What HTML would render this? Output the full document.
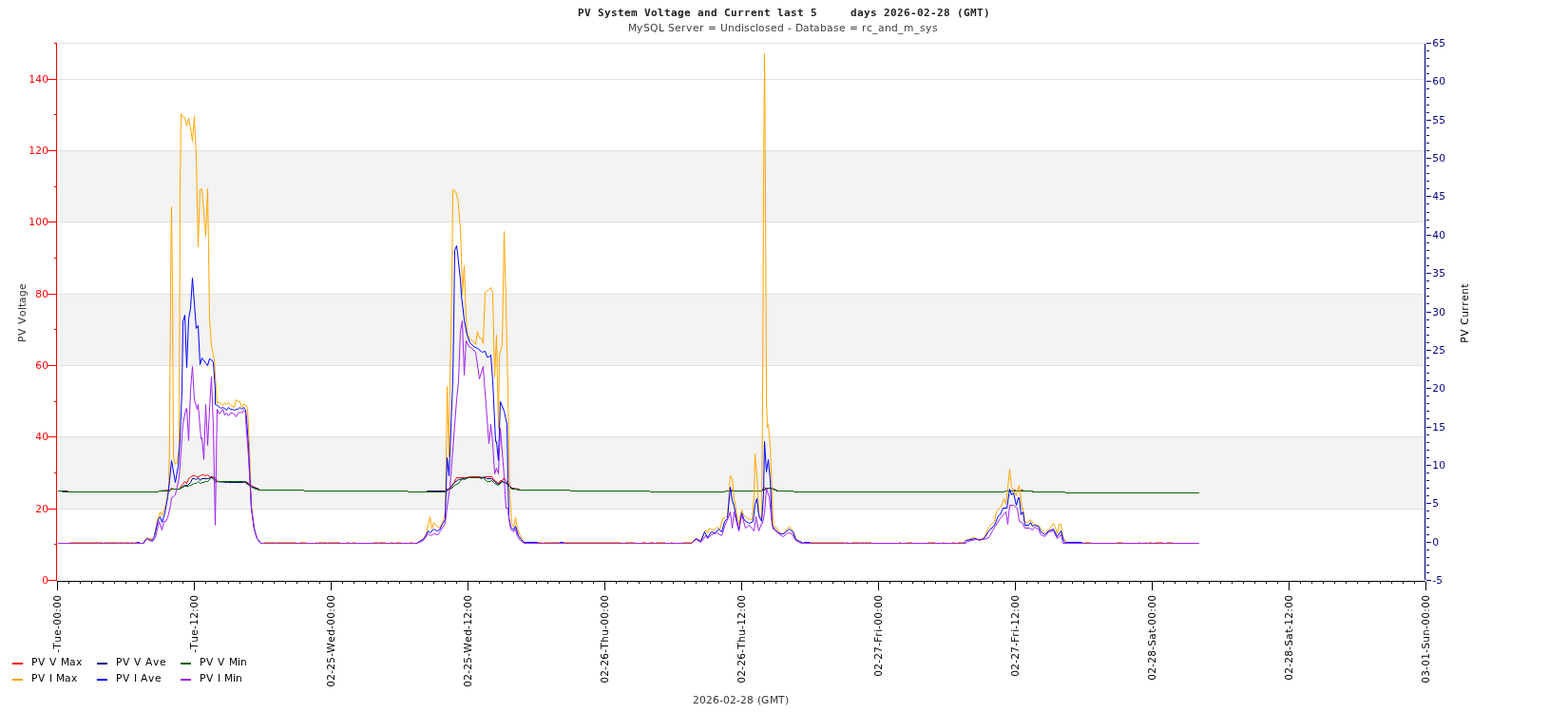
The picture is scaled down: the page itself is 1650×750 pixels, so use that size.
<!DOCTYPE html><html><head><meta charset="utf-8"><title>PV System Voltage and Current</title><style>html,body{margin:0;padding:0;background:#fff;overflow:hidden}svg{display:block;position:absolute;left:0;top:0}text{font-family:"DejaVu Sans","Liberation Sans",sans-serif}</style></head><body><div style="position:relative;width:1650px;height:750px"><svg width="1650" height="750" viewBox="0 0 1650 750" shape-rendering="crispEdges"><rect x="0" y="0" width="1650" height="750" fill="#fff"/><rect x="60" y="459" width="1439" height="76" fill="#f3f3f3"/><rect x="60" y="309" width="1439" height="75" fill="#f3f3f3"/><rect x="60" y="158" width="1439" height="75" fill="#f3f3f3"/><rect x="61" y="535" width="1438" height="1" fill="#e0e0e0"/><rect x="61" y="459" width="1438" height="1" fill="#e0e0e0"/><rect x="61" y="384" width="1438" height="1" fill="#e0e0e0"/><rect x="61" y="309" width="1438" height="1" fill="#e0e0e0"/><rect x="61" y="233" width="1438" height="1" fill="#e0e0e0"/><rect x="61" y="158" width="1438" height="1" fill="#e0e0e0"/><rect x="61" y="83" width="1438" height="1" fill="#e0e0e0"/><rect x="61" y="45" width="1438" height="1" fill="#e0e0e0"/><rect x="60" y="45" width="1" height="565" fill="#e8f6f6"/><rect x="1500" y="46" width="1" height="565" fill="#ebebe3"/></svg><svg width="1650" height="750" viewBox="0 0 1650 750" shape-rendering="geometricPrecision"><polyline fill="none" stroke="#f00" stroke-width="1.00" stroke-linejoin="miter" stroke-miterlimit="2" points="61.5,516.5 71.5,516.5 71.5,517.5 166.5,517.5 167.5,516.5 178.5,515.5 180.5,513.5 182.5,514.5 188.5,514.5 194.5,506.5 196.5,508.5 198.5,503.5 202.5,500.5 205.5,500.5 206.5,501.5 208.5,501.5 210.5,500.5 212.5,499.5 214.5,499.5 216.5,500.5 218.5,499.5 220.5,501.5 223.5,501.5 226.5,502.5 228.5,505.5 228.5,506.5 257.5,506.5 260.5,507.5 264.5,510.5 267.5,512.5 272.5,514.5 273.5,515.5 319.5,515.5 320.5,516.5 428.5,516.5 429.5,517.5 448.5,517.5 449.5,516.5 469.5,516.5 470.5,514.5 474.5,513.5 480.5,502.5 483.5,502.5 489.5,502.5 495.5,501.5 504.5,501.5 507.5,502.5 510.5,501.5 517.5,501.5 520.5,505.5 524.5,508.5 526.5,505.5 528.5,505.5 530.5,502.5 532.5,505.5 538.5,513.5 546.5,514.5 547.5,515.5 599.5,515.5 600.5,516.5 683.5,516.5 684.5,517.5 762.5,517.5 763.5,516.5 767.5,516.5 769.5,515.5 772.5,516.5 800.5,516.5 804.5,512.5 806.5,514.5 809.5,513.5 814.5,514.5 818.5,516.5 834.5,516.5 835.5,517.5 1056.5,517.5 1057.5,516.5 1065.5,516.5 1066.5,515.5 1068.5,515.5 1069.5,516.5 1073.5,516.5 1074.5,515.5 1076.5,515.5 1077.5,516.5 1085.5,516.5 1086.5,517.5 1120.5,517.5 1121.5,518.5 1261.5,518.5"/><polyline fill="none" stroke="#000080" stroke-width="1.00" stroke-linejoin="miter" stroke-miterlimit="2" points="61.5,516.5 69.5,516.5 69.5,517.5 166.5,517.5 167.5,516.5 178.5,516.5 180.5,514.5 188.5,514.5 194.5,510.5 197.5,510.5 200.5,507.5 202.5,503.5 204.5,503.5 206.5,504.5 208.5,502.5 210.5,505.5 212.5,503.5 218.5,503.5 222.5,502.5 225.5,503.5 227.5,506.5 239.5,507.5 240.5,507.5 246.5,507.5 255.5,507.5 258.5,506.5 263.5,511.5 272.5,514.5 273.5,515.5 319.5,515.5 320.5,516.5 428.5,516.5 429.5,517.5 448.5,517.5 449.5,516.5 469.5,516.5 472.5,514.5 478.5,507.5 482.5,504.5 488.5,503.5 492.5,502.5 505.5,502.5 508.5,502.5 510.5,502.5 512.5,503.5 517.5,503.5 520.5,506.5 524.5,509.5 527.5,506.5 532.5,507.5 538.5,513.5 546.5,515.5 599.5,515.5 600.5,516.5 683.5,516.5 684.5,517.5 762.5,517.5 763.5,516.5 800.5,516.5 804.5,514.5 808.5,513.5 811.5,513.5 814.5,514.5 818.5,516.5 834.5,516.5 835.5,517.5 1056.5,517.5 1057.5,516.5 1086.5,516.5 1087.5,517.5 1120.5,517.5 1121.5,518.5 1261.5,518.5"/><polyline fill="none" stroke="#006400" stroke-width="1.00" stroke-linejoin="miter" stroke-miterlimit="2" points="61.5,516.5 65.5,516.5 65.5,517.5 166.5,517.5 167.5,516.5 178.5,516.5 180.5,514.5 188.5,514.5 194.5,511.5 198.5,511.5 204.5,508.5 206.5,508.5 208.5,506.5 210.5,508.5 216.5,506.5 218.5,506.5 222.5,502.5 224.5,503.5 226.5,507.5 228.5,506.5 256.5,506.5 263.5,511.5 266.5,513.5 272.5,515.5 319.5,515.5 320.5,516.5 428.5,516.5 429.5,517.5 469.5,517.5 470.5,516.5 472.5,514.5 474.5,514.5 478.5,510.5 482.5,508.5 486.5,503.5 488.5,504.5 492.5,502.5 504.5,502.5 506.5,503.5 508.5,502.5 512.5,506.5 515.5,506.5 517.5,505.5 520.5,508.5 524.5,510.5 528.5,506.5 532.5,508.5 538.5,514.5 544.5,514.5 546.5,515.5 599.5,515.5 600.5,516.5 683.5,516.5 684.5,517.5 762.5,517.5 763.5,516.5 800.5,516.5 804.5,515.5 807.5,513.5 810.5,513.5 813.5,514.5 818.5,516.5 834.5,516.5 835.5,517.5 1056.5,517.5 1057.5,516.5 1086.5,516.5 1087.5,517.5 1120.5,517.5 1121.5,518.5 1261.5,518.5"/><polyline fill="none" stroke="#ffa500" stroke-width="1.00" stroke-linejoin="miter" stroke-miterlimit="2" points="61.5,571.5 150.5,571.5 154.5,565.5 156.5,566.5 160.5,566.5 162.5,564.5 165.5,547.5 168.5,538.5 170.5,542.5 174.5,531.5 176.5,520.5 177.5,514.5 178.5,460.5 179.5,300.5 180.5,217.5 181.5,300.5 182.5,480.5 184.5,488.5 186.5,486.5 188.5,470.5 189.5,200.5 190.5,119.5 191.5,121.5 192.5,123.5 193.5,122.5 194.5,123.5 196.5,132.5 198.5,124.5 200.5,134.5 202.5,148.5 204.5,122.5 206.5,164.5 208.5,259.5 210.5,199.5 212.5,198.5 216.5,248.5 218.5,198.5 219.5,260.5 220.5,336.5 222.5,364.5 225.5,378.5 227.5,410.5 228.5,424.5 230.5,422.5 234.5,426.5 236.5,423.5 238.5,425.5 240.5,423.5 242.5,426.5 246.5,428.5 248.5,420.5 250.5,422.5 252.5,422.5 254.5,428.5 256.5,425.5 258.5,425.5 260.5,429.5 262.5,470.5 264.5,530.5 267.5,556.5 270.5,566.5 274.5,571.5 437.5,571.5 441.5,569.5 445.5,566.5 448.5,561.5 452.5,543.5 454.5,556.5 456.5,549.5 459.5,553.5 462.5,555.5 466.5,547.5 468.5,538.5 469.5,486.5 470.5,406.5 472.5,480.5 473.5,400.5 475.5,300.5 476.5,199.5 479.5,201.5 481.5,208.5 482.5,216.5 484.5,240.5 485.5,270.5 486.5,310.5 488.5,279.5 490.5,336.5 491.5,350.5 494.5,356.5 497.5,358.5 500.5,362.5 502.5,348.5 504.5,355.5 506.5,355.5 508.5,361.5 510.5,307.5 514.5,304.5 516.5,302.5 518.5,307.5 520.5,396.5 522.5,352.5 524.5,450.5 525.5,373.5 528.5,362.5 530.5,243.5 532.5,320.5 534.5,410.5 535.5,470.5 536.5,520.5 538.5,550.5 540.5,554.5 542.5,544.5 544.5,556.5 547.5,563.5 550.5,569.5 552.5,571.5 726.5,571.5 732.5,566.5 736.5,569.5 742.5,557.5 744.5,560.5 746.5,555.5 748.5,557.5 751.5,557.5 754.5,554.5 757.5,556.5 760.5,545.5 763.5,544.5 765.5,542.5 768.5,500.5 770.5,503.5 772.5,524.5 774.5,535.5 776.5,553.5 780.5,536.5 782.5,541.5 786.5,545.5 791.5,546.5 793.5,520.5 794.5,477.5 796.5,500.5 798.5,540.5 801.5,545.5 802.5,420.5 803.5,200.5 804.5,56.5 805.5,200.5 806.5,420.5 807.5,449.5 808.5,446.5 810.5,470.5 812.5,516.5 813.5,553.5 816.5,554.5 821.5,561.5 824.5,561.5 830.5,553.5 834.5,558.5 837.5,566.5 841.5,569.5 845.5,571.5 1014.5,571.5 1016.5,568.5 1024.5,565.5 1030.5,567.5 1035.5,565.5 1040.5,554.5 1046.5,548.5 1048.5,538.5 1052.5,533.5 1054.5,530.5 1056.5,524.5 1058.5,530.5 1060.5,513.5 1062.5,493.5 1064.5,512.5 1066.5,516.5 1069.5,521.5 1072.5,510.5 1074.5,526.5 1075.5,535.5 1076.5,534.5 1078.5,549.5 1081.5,549.5 1084.5,546.5 1087.5,551.5 1092.5,552.5 1096.5,557.5 1100.5,561.5 1103.5,557.5 1108.5,550.5 1110.5,554.5 1112.5,561.5 1114.5,551.5 1116.5,551.5 1118.5,565.5 1122.5,570.5 1124.5,571.5 1261.5,571.5"/><rect x="74" y="570" width="34" height="1" fill="#ffa500"/><rect x="110" y="570" width="14" height="1" fill="#ffa500"/><rect x="125" y="570" width="5" height="1" fill="#ffa500"/><rect x="131" y="570" width="5" height="1" fill="#ffa500"/><rect x="137" y="570" width="3" height="1" fill="#ffa500"/><rect x="141" y="570" width="3" height="1" fill="#ffa500"/><rect x="278" y="570" width="12" height="1" fill="#ffa500"/><rect x="291" y="570" width="21" height="1" fill="#ffa500"/><rect x="315" y="570" width="7" height="1" fill="#ffa500"/><rect x="332" y="570" width="2" height="1" fill="#ffa500"/><rect x="335" y="570" width="9" height="1" fill="#ffa500"/><rect x="345" y="570" width="13" height="1" fill="#ffa500"/><rect x="365" y="570" width="3" height="1" fill="#ffa500"/><rect x="371" y="570" width="3" height="1" fill="#ffa500"/><rect x="393" y="570" width="5" height="1" fill="#ffa500"/><rect x="399" y="570" width="7" height="1" fill="#ffa500"/><rect x="411" y="570" width="3" height="1" fill="#ffa500"/><rect x="417" y="570" width="5" height="1" fill="#ffa500"/><rect x="431" y="570" width="3" height="1" fill="#ffa500"/><rect x="566" y="570" width="5" height="1" fill="#ffa500"/><rect x="572" y="570" width="18" height="1" fill="#ffa500"/><rect x="592" y="570" width="62" height="1" fill="#ffa500"/><rect x="658" y="570" width="10" height="1" fill="#ffa500"/><rect x="676" y="570" width="4" height="1" fill="#ffa500"/><rect x="683" y="570" width="5" height="1" fill="#ffa500"/><rect x="690" y="570" width="10" height="1" fill="#ffa500"/><rect x="706" y="570" width="2" height="1" fill="#ffa500"/><rect x="718" y="570" width="9" height="1" fill="#ffa500"/><rect x="852" y="570" width="36" height="1" fill="#ffa500"/><rect x="890" y="570" width="3" height="1" fill="#ffa500"/><rect x="896" y="570" width="9" height="1" fill="#ffa500"/><rect x="906" y="570" width="3" height="1" fill="#ffa500"/><rect x="910" y="570" width="7" height="1" fill="#ffa500"/><rect x="946" y="570" width="2" height="1" fill="#ffa500"/><rect x="954" y="570" width="6" height="1" fill="#ffa500"/><rect x="976" y="570" width="8" height="1" fill="#ffa500"/><rect x="992" y="570" width="2" height="1" fill="#ffa500"/><rect x="1002" y="570" width="3" height="1" fill="#ffa500"/><rect x="1008" y="570" width="6" height="1" fill="#ffa500"/><rect x="1141" y="570" width="7" height="1" fill="#ffa500"/><rect x="1175" y="570" width="6" height="1" fill="#ffa500"/><rect x="1198" y="570" width="2" height="1" fill="#ffa500"/><rect x="1205" y="570" width="2" height="1" fill="#ffa500"/><rect x="1209" y="570" width="3" height="1" fill="#ffa500"/><rect x="1215" y="570" width="9" height="1" fill="#ffa500"/><rect x="1228" y="570" width="6" height="1" fill="#ffa500"/><polyline fill="none" stroke="#0000ff" stroke-width="1.00" stroke-linejoin="miter" stroke-miterlimit="2" points="61.5,571.5 150.5,571.5 154.5,566.5 156.5,567.5 160.5,568.5 162.5,563.5 166.5,546.5 168.5,543.5 170.5,549.5 173.5,539.5 176.5,522.5 178.5,505.5 180.5,484.5 184.5,507.5 187.5,490.5 189.5,460.5 191.5,410.5 192.5,338.5 194.5,331.5 196.5,386.5 198.5,335.5 200.5,324.5 202.5,292.5 206.5,345.5 208.5,342.5 210.5,383.5 212.5,376.5 218.5,384.5 220.5,377.5 222.5,378.5 224.5,381.5 226.5,410.5 226.5,425.5 228.5,426.5 232.5,429.5 234.5,428.5 238.5,431.5 240.5,428.5 242.5,430.5 244.5,430.5 246.5,431.5 248.5,430.5 250.5,430.5 252.5,428.5 254.5,430.5 256.5,428.5 258.5,431.5 259.5,440.5 261.5,470.5 264.5,534.5 267.5,556.5 270.5,566.5 274.5,571.5 438.5,571.5 441.5,569.5 446.5,566.5 450.5,558.5 452.5,560.5 456.5,556.5 459.5,558.5 462.5,557.5 465.5,551.5 468.5,546.5 469.5,512.5 470.5,481.5 472.5,500.5 474.5,450.5 476.5,400.5 477.5,340.5 478.5,263.5 480.5,258.5 481.5,266.5 484.5,294.5 485.5,310.5 488.5,336.5 491.5,352.5 494.5,360.5 498.5,364.5 502.5,366.5 507.5,370.5 510.5,369.5 512.5,375.5 514.5,375.5 516.5,373.5 518.5,400.5 521.5,464.5 522.5,464.5 524.5,484.5 526.5,422.5 530.5,432.5 533.5,446.5 534.5,504.5 535.5,544.5 537.5,554.5 540.5,557.5 542.5,553.5 545.5,563.5 548.5,567.5 551.5,570.5 560.5,570.5 561.5,571.5 727.5,571.5 732.5,566.5 737.5,569.5 741.5,559.5 744.5,565.5 748.5,559.5 752.5,560.5 756.5,556.5 759.5,559.5 762.5,548.5 765.5,545.5 768.5,512.5 770.5,526.5 772.5,532.5 775.5,548.5 777.5,557.5 780.5,539.5 783.5,547.5 788.5,550.5 792.5,548.5 794.5,530.5 796.5,524.5 798.5,542.5 801.5,548.5 803.5,520.5 804.5,464.5 806.5,496.5 808.5,483.5 810.5,504.5 812.5,552.5 815.5,557.5 817.5,559.5 821.5,561.5 824.5,561.5 830.5,556.5 834.5,559.5 837.5,567.5 841.5,569.5 845.5,571.5 1014.5,571.5 1016.5,568.5 1026.5,566.5 1030.5,568.5 1035.5,566.5 1040.5,558.5 1046.5,552.5 1050.5,542.5 1052.5,541.5 1055.5,534.5 1059.5,534.5 1062.5,514.5 1064.5,520.5 1066.5,518.5 1069.5,531.5 1071.5,523.5 1072.5,523.5 1074.5,541.5 1076.5,538.5 1078.5,552.5 1082.5,552.5 1084.5,549.5 1086.5,553.5 1088.5,552.5 1092.5,553.5 1095.5,559.5 1099.5,562.5 1103.5,558.5 1108.5,556.5 1112.5,564.5 1116.5,558.5 1119.5,569.5 1122.5,571.5 1261.5,571.5"/><rect x="144" y="570" width="3" height="1" fill="#0000ff"/><rect x="552" y="570" width="14" height="1" fill="#0000ff"/><rect x="589" y="570" width="4" height="1" fill="#0000ff"/><rect x="846" y="570" width="6" height="1" fill="#0000ff"/><rect x="1122" y="570" width="17" height="1" fill="#0000ff"/><polyline fill="none" stroke="#a020f0" stroke-width="1.00" stroke-linejoin="miter" stroke-miterlimit="2" points="61.5,571.5 151.5,571.5 154.5,566.5 157.5,568.5 160.5,569.5 163.5,565.5 167.5,548.5 170.5,557.5 172.5,548.5 174.5,548.5 176.5,544.5 179.5,531.5 180.5,523.5 182.5,522.5 184.5,520.5 188.5,502.5 192.5,446.5 195.5,430.5 196.5,429.5 198.5,463.5 200.5,410.5 202.5,385.5 204.5,420.5 207.5,430.5 208.5,425.5 211.5,461.5 212.5,460.5 214.5,483.5 216.5,425.5 218.5,468.5 221.5,412.5 222.5,396.5 224.5,450.5 226.5,552.5 228.5,430.5 230.5,435.5 234.5,430.5 236.5,436.5 238.5,434.5 240.5,437.5 242.5,434.5 244.5,434.5 246.5,435.5 248.5,438.5 250.5,434.5 252.5,433.5 254.5,434.5 256.5,431.5 258.5,434.5 258.5,440.5 261.5,480.5 264.5,534.5 267.5,556.5 270.5,566.5 274.5,571.5 438.5,571.5 445.5,568.5 450.5,561.5 453.5,563.5 456.5,561.5 460.5,562.5 463.5,558.5 468.5,550.5 470.5,533.5 473.5,512.5 475.5,486.5 477.5,460.5 480.5,420.5 482.5,400.5 484.5,348.5 486.5,337.5 488.5,394.5 490.5,358.5 493.5,364.5 495.5,365.5 500.5,370.5 504.5,398.5 508.5,385.5 509.5,400.5 511.5,426.5 514.5,466.5 516.5,446.5 518.5,466.5 520.5,498.5 522.5,492.5 524.5,498.5 526.5,450.5 530.5,500.5 531.5,520.5 532.5,534.5 534.5,534.5 535.5,545.5 537.5,556.5 540.5,559.5 542.5,556.5 544.5,564.5 547.5,568.5 551.5,571.5 727.5,571.5 732.5,567.5 737.5,570.5 742.5,563.5 744.5,566.5 748.5,562.5 754.5,560.5 759.5,563.5 762.5,553.5 765.5,546.5 768.5,538.5 770.5,555.5 772.5,538.5 777.5,558.5 780.5,541.5 784.5,555.5 788.5,552.5 793.5,558.5 795.5,543.5 798.5,558.5 801.5,550.5 802.5,550.5 804.5,539.5 806.5,514.5 809.5,522.5 811.5,542.5 813.5,556.5 816.5,557.5 820.5,562.5 824.5,564.5 827.5,561.5 830.5,560.5 833.5,561.5 836.5,567.5 840.5,570.5 843.5,571.5 1016.5,571.5 1018.5,569.5 1026.5,567.5 1035.5,567.5 1040.5,565.5 1046.5,554.5 1052.5,545.5 1058.5,538.5 1060.5,551.5 1062.5,531.5 1066.5,531.5 1070.5,534.5 1072.5,548.5 1075.5,549.5 1078.5,555.5 1083.5,555.5 1086.5,557.5 1088.5,554.5 1092.5,556.5 1095.5,562.5 1099.5,564.5 1103.5,559.5 1108.5,558.5 1112.5,566.5 1116.5,562.5 1118.5,571.5 1261.5,571.5"/></svg><svg width="1650" height="750" viewBox="0 0 1650 750" shape-rendering="crispEdges"><rect x="60" y="611" width="1440" height="1" fill="#000"/><rect x="60" y="612" width="1" height="9" fill="#000"/><rect x="72" y="612" width="1" height="2" fill="#000"/><rect x="84" y="612" width="1" height="2" fill="#000"/><rect x="96" y="612" width="1" height="2" fill="#000"/><rect x="108" y="612" width="1" height="2" fill="#000"/><rect x="120" y="612" width="1" height="2" fill="#000"/><rect x="132" y="612" width="1" height="2" fill="#000"/><rect x="144" y="612" width="1" height="2" fill="#000"/><rect x="156" y="612" width="1" height="2" fill="#000"/><rect x="168" y="612" width="1" height="2" fill="#000"/><rect x="180" y="612" width="1" height="2" fill="#000"/><rect x="192" y="612" width="1" height="2" fill="#000"/><rect x="204" y="612" width="1" height="9" fill="#000"/><rect x="216" y="612" width="1" height="2" fill="#000"/><rect x="228" y="612" width="1" height="2" fill="#000"/><rect x="240" y="612" width="1" height="2" fill="#000"/><rect x="252" y="612" width="1" height="2" fill="#000"/><rect x="264" y="612" width="1" height="2" fill="#000"/><rect x="276" y="612" width="1" height="2" fill="#000"/><rect x="288" y="612" width="1" height="2" fill="#000"/><rect x="300" y="612" width="1" height="2" fill="#000"/><rect x="312" y="612" width="1" height="2" fill="#000"/><rect x="324" y="612" width="1" height="2" fill="#000"/><rect x="336" y="612" width="1" height="2" fill="#000"/><rect x="348" y="612" width="1" height="9" fill="#000"/><rect x="360" y="612" width="1" height="2" fill="#000"/><rect x="372" y="612" width="1" height="2" fill="#000"/><rect x="384" y="612" width="1" height="2" fill="#000"/><rect x="396" y="612" width="1" height="2" fill="#000"/><rect x="408" y="612" width="1" height="2" fill="#000"/><rect x="420" y="612" width="1" height="2" fill="#000"/><rect x="432" y="612" width="1" height="2" fill="#000"/><rect x="444" y="612" width="1" height="2" fill="#000"/><rect x="456" y="612" width="1" height="2" fill="#000"/><rect x="468" y="612" width="1" height="2" fill="#000"/><rect x="480" y="612" width="1" height="2" fill="#000"/><rect x="492" y="612" width="1" height="9" fill="#000"/><rect x="504" y="612" width="1" height="2" fill="#000"/><rect x="516" y="612" width="1" height="2" fill="#000"/><rect x="528" y="612" width="1" height="2" fill="#000"/><rect x="540" y="612" width="1" height="2" fill="#000"/><rect x="552" y="612" width="1" height="2" fill="#000"/><rect x="564" y="612" width="1" height="2" fill="#000"/><rect x="576" y="612" width="1" height="2" fill="#000"/><rect x="588" y="612" width="1" height="2" fill="#000"/><rect x="600" y="612" width="1" height="2" fill="#000"/><rect x="612" y="612" width="1" height="2" fill="#000"/><rect x="624" y="612" width="1" height="2" fill="#000"/><rect x="636" y="612" width="1" height="9" fill="#000"/><rect x="648" y="612" width="1" height="2" fill="#000"/><rect x="660" y="612" width="1" height="2" fill="#000"/><rect x="672" y="612" width="1" height="2" fill="#000"/><rect x="684" y="612" width="1" height="2" fill="#000"/><rect x="696" y="612" width="1" height="2" fill="#000"/><rect x="708" y="612" width="1" height="2" fill="#000"/><rect x="720" y="612" width="1" height="2" fill="#000"/><rect x="732" y="612" width="1" height="2" fill="#000"/><rect x="744" y="612" width="1" height="2" fill="#000"/><rect x="756" y="612" width="1" height="2" fill="#000"/><rect x="768" y="612" width="1" height="2" fill="#000"/><rect x="780" y="612" width="1" height="9" fill="#000"/><rect x="792" y="612" width="1" height="2" fill="#000"/><rect x="804" y="612" width="1" height="2" fill="#000"/><rect x="816" y="612" width="1" height="2" fill="#000"/><rect x="828" y="612" width="1" height="2" fill="#000"/><rect x="840" y="612" width="1" height="2" fill="#000"/><rect x="852" y="612" width="1" height="2" fill="#000"/><rect x="864" y="612" width="1" height="2" fill="#000"/><rect x="876" y="612" width="1" height="2" fill="#000"/><rect x="888" y="612" width="1" height="2" fill="#000"/><rect x="900" y="612" width="1" height="2" fill="#000"/><rect x="912" y="612" width="1" height="2" fill="#000"/><rect x="924" y="612" width="1" height="9" fill="#000"/><rect x="936" y="612" width="1" height="2" fill="#000"/><rect x="948" y="612" width="1" height="2" fill="#000"/><rect x="960" y="612" width="1" height="2" fill="#000"/><rect x="972" y="612" width="1" height="2" fill="#000"/><rect x="984" y="612" width="1" height="2" fill="#000"/><rect x="996" y="612" width="1" height="2" fill="#000"/><rect x="1008" y="612" width="1" height="2" fill="#000"/><rect x="1020" y="612" width="1" height="2" fill="#000"/><rect x="1032" y="612" width="1" height="2" fill="#000"/><rect x="1044" y="612" width="1" height="2" fill="#000"/><rect x="1056" y="612" width="1" height="2" fill="#000"/><rect x="1068" y="612" width="1" height="9" fill="#000"/><rect x="1080" y="612" width="1" height="2" fill="#000"/><rect x="1092" y="612" width="1" height="2" fill="#000"/><rect x="1104" y="612" width="1" height="2" fill="#000"/><rect x="1116" y="612" width="1" height="2" fill="#000"/><rect x="1128" y="612" width="1" height="2" fill="#000"/><rect x="1140" y="612" width="1" height="2" fill="#000"/><rect x="1152" y="612" width="1" height="2" fill="#000"/><rect x="1164" y="612" width="1" height="2" fill="#000"/><rect x="1176" y="612" width="1" height="2" fill="#000"/><rect x="1188" y="612" width="1" height="2" fill="#000"/><rect x="1200" y="612" width="1" height="2" fill="#000"/><rect x="1212" y="612" width="1" height="9" fill="#000"/><rect x="1224" y="612" width="1" height="2" fill="#000"/><rect x="1236" y="612" width="1" height="2" fill="#000"/><rect x="1248" y="612" width="1" height="2" fill="#000"/><rect x="1260" y="612" width="1" height="2" fill="#000"/><rect x="1272" y="612" width="1" height="2" fill="#000"/><rect x="1284" y="612" width="1" height="2" fill="#000"/><rect x="1296" y="612" width="1" height="2" fill="#000"/><rect x="1308" y="612" width="1" height="2" fill="#000"/><rect x="1320" y="612" width="1" height="2" fill="#000"/><rect x="1332" y="612" width="1" height="2" fill="#000"/><rect x="1344" y="612" width="1" height="2" fill="#000"/><rect x="1356" y="612" width="1" height="9" fill="#000"/><rect x="1368" y="612" width="1" height="2" fill="#000"/><rect x="1380" y="612" width="1" height="2" fill="#000"/><rect x="1392" y="612" width="1" height="2" fill="#000"/><rect x="1404" y="612" width="1" height="2" fill="#000"/><rect x="1416" y="612" width="1" height="2" fill="#000"/><rect x="1428" y="612" width="1" height="2" fill="#000"/><rect x="1440" y="612" width="1" height="2" fill="#000"/><rect x="1452" y="612" width="1" height="2" fill="#000"/><rect x="1464" y="612" width="1" height="2" fill="#000"/><rect x="1476" y="612" width="1" height="2" fill="#000"/><rect x="1488" y="612" width="1" height="2" fill="#000"/><rect x="1500" y="612" width="1" height="9" fill="#000"/><rect x="59" y="45" width="1" height="566" fill="#f00"/><rect x="50" y="610" width="9" height="1" fill="#f00"/><rect x="57" y="572" width="2" height="1" fill="#f00"/><rect x="50" y="535" width="9" height="1" fill="#f00"/><rect x="57" y="497" width="2" height="1" fill="#f00"/><rect x="50" y="459" width="9" height="1" fill="#f00"/><rect x="57" y="422" width="2" height="1" fill="#f00"/><rect x="50" y="384" width="9" height="1" fill="#f00"/><rect x="57" y="346" width="2" height="1" fill="#f00"/><rect x="50" y="309" width="9" height="1" fill="#f00"/><rect x="57" y="271" width="2" height="1" fill="#f00"/><rect x="50" y="233" width="9" height="1" fill="#f00"/><rect x="57" y="196" width="2" height="1" fill="#f00"/><rect x="50" y="158" width="9" height="1" fill="#f00"/><rect x="57" y="120" width="2" height="1" fill="#f00"/><rect x="50" y="83" width="9" height="1" fill="#f00"/><rect x="57" y="45" width="2" height="1" fill="#f00"/><rect x="1499" y="46" width="1" height="564" fill="#000080"/><rect x="1501" y="610" width="5" height="1" fill="#000080"/><rect x="1501" y="602" width="3" height="1" fill="#000080"/><rect x="1501" y="594" width="3" height="1" fill="#000080"/><rect x="1501" y="586" width="3" height="1" fill="#000080"/><rect x="1501" y="578" width="3" height="1" fill="#000080"/><rect x="1501" y="570" width="5" height="1" fill="#000080"/><rect x="1501" y="562" width="3" height="1" fill="#000080"/><rect x="1501" y="554" width="3" height="1" fill="#000080"/><rect x="1501" y="545" width="3" height="1" fill="#000080"/><rect x="1501" y="537" width="3" height="1" fill="#000080"/><rect x="1501" y="529" width="5" height="1" fill="#000080"/><rect x="1501" y="521" width="3" height="1" fill="#000080"/><rect x="1501" y="513" width="3" height="1" fill="#000080"/><rect x="1501" y="505" width="3" height="1" fill="#000080"/><rect x="1501" y="497" width="3" height="1" fill="#000080"/><rect x="1501" y="489" width="5" height="1" fill="#000080"/><rect x="1501" y="481" width="3" height="1" fill="#000080"/><rect x="1501" y="473" width="3" height="1" fill="#000080"/><rect x="1501" y="465" width="3" height="1" fill="#000080"/><rect x="1501" y="457" width="3" height="1" fill="#000080"/><rect x="1501" y="449" width="5" height="1" fill="#000080"/><rect x="1501" y="440" width="3" height="1" fill="#000080"/><rect x="1501" y="432" width="3" height="1" fill="#000080"/><rect x="1501" y="424" width="3" height="1" fill="#000080"/><rect x="1501" y="416" width="3" height="1" fill="#000080"/><rect x="1501" y="408" width="5" height="1" fill="#000080"/><rect x="1501" y="400" width="3" height="1" fill="#000080"/><rect x="1501" y="392" width="3" height="1" fill="#000080"/><rect x="1501" y="384" width="3" height="1" fill="#000080"/><rect x="1501" y="376" width="3" height="1" fill="#000080"/><rect x="1501" y="368" width="5" height="1" fill="#000080"/><rect x="1501" y="360" width="3" height="1" fill="#000080"/><rect x="1501" y="352" width="3" height="1" fill="#000080"/><rect x="1501" y="344" width="3" height="1" fill="#000080"/><rect x="1501" y="336" width="3" height="1" fill="#000080"/><rect x="1501" y="328" width="5" height="1" fill="#000080"/><rect x="1501" y="319" width="3" height="1" fill="#000080"/><rect x="1501" y="311" width="3" height="1" fill="#000080"/><rect x="1501" y="303" width="3" height="1" fill="#000080"/><rect x="1501" y="295" width="3" height="1" fill="#000080"/><rect x="1501" y="287" width="5" height="1" fill="#000080"/><rect x="1501" y="279" width="3" height="1" fill="#000080"/><rect x="1501" y="271" width="3" height="1" fill="#000080"/><rect x="1501" y="263" width="3" height="1" fill="#000080"/><rect x="1501" y="255" width="3" height="1" fill="#000080"/><rect x="1501" y="247" width="5" height="1" fill="#000080"/><rect x="1501" y="239" width="3" height="1" fill="#000080"/><rect x="1501" y="231" width="3" height="1" fill="#000080"/><rect x="1501" y="223" width="3" height="1" fill="#000080"/><rect x="1501" y="214" width="3" height="1" fill="#000080"/><rect x="1501" y="206" width="5" height="1" fill="#000080"/><rect x="1501" y="198" width="3" height="1" fill="#000080"/><rect x="1501" y="190" width="3" height="1" fill="#000080"/><rect x="1501" y="182" width="3" height="1" fill="#000080"/><rect x="1501" y="174" width="3" height="1" fill="#000080"/><rect x="1501" y="166" width="5" height="1" fill="#000080"/><rect x="1501" y="158" width="3" height="1" fill="#000080"/><rect x="1501" y="150" width="3" height="1" fill="#000080"/><rect x="1501" y="142" width="3" height="1" fill="#000080"/><rect x="1501" y="134" width="3" height="1" fill="#000080"/><rect x="1501" y="126" width="5" height="1" fill="#000080"/><rect x="1501" y="118" width="3" height="1" fill="#000080"/><rect x="1501" y="110" width="3" height="1" fill="#000080"/><rect x="1501" y="102" width="3" height="1" fill="#000080"/><rect x="1501" y="93" width="3" height="1" fill="#000080"/><rect x="1501" y="85" width="5" height="1" fill="#000080"/><rect x="1501" y="77" width="3" height="1" fill="#000080"/><rect x="1501" y="69" width="3" height="1" fill="#000080"/><rect x="1501" y="61" width="3" height="1" fill="#000080"/><rect x="1501" y="53" width="3" height="1" fill="#000080"/><rect x="1501" y="45" width="5" height="1" fill="#000080"/><rect x="13" y="697" width="11" height="2" fill="#f00"/><rect x="102" y="697" width="11" height="2" fill="#000080"/><rect x="190" y="697" width="11" height="2" fill="#006400"/><rect x="13" y="714" width="11" height="2" fill="#ffa500"/><rect x="102" y="714" width="11" height="2" fill="#00f"/><rect x="190" y="714" width="11" height="2" fill="#a020f0"/></svg><svg width="1650" height="750" viewBox="0 0 1650 750"><text x="608 615 622 629 636 643 650 657 664 671 678 685 692 699 706 713 720 727 734 741 748 755 762 769 776 783 790 797 804 811 818 825 832 839 846 853 860 867 874 881 888 895 902 909 916 923 930 937 944 951 958 965 972 979 986 993 1000 1007 1014 1021 1028 1035" y="17" style="font-family:DejaVu Sans Mono,Liberation Mono,monospace;font-weight:bold" font-size="11" fill="#222" xml:space="preserve">PV System Voltage and Current last 5     days 2026-02-28 (GMT)</text><text x="661.00 670.00 677.00 684.00 693.00 699.00 703.00 710.00 717.00 722.00 729.00 736.00 741.00 745.00 754.00 758.00 766.00 773.00 780.00 783.00 789.00 795.00 798.00 805.00 811.00 818.00 825.00 829.00 833.00 837.00 845.00 852.00 856.00 863.00 870.00 877.00 883.00 890.00 894.00 903.00 907.00 912.00 918.00 924.00 931.00 938.00 945.00 951.00 962.00 968.00 974.00 981.00" y="33.00" font-size="10.67" fill="#404040" xml:space="preserve">MySQL Server = Undisclosed - Database = rc_and_m_sys</text><text x="44.20" y="614.40" font-size="10.67" fill="#f00" xml:space="preserve">0</text><text x="37.20 44.20" y="539.40" font-size="10.67" fill="#f00" xml:space="preserve">20</text><text x="37.20 44.20" y="463.40" font-size="10.67" fill="#f00" xml:space="preserve">40</text><text x="37.20 44.20" y="388.40" font-size="10.67" fill="#f00" xml:space="preserve">60</text><text x="37.20 44.20" y="313.40" font-size="10.67" fill="#f00" xml:space="preserve">80</text><text x="30.20 37.20 44.20" y="237.40" font-size="10.67" fill="#f00" xml:space="preserve">100</text><text x="30.20 37.20 44.20" y="162.40" font-size="10.67" fill="#f00" xml:space="preserve">120</text><text x="30.20 37.20 44.20" y="87.40" font-size="10.67" fill="#f00" xml:space="preserve">140</text><text x="1507.20 1511.20" y="614.40" font-size="10.67" fill="#000080" xml:space="preserve">-5</text><text x="1507.20" y="574.40" font-size="10.67" fill="#000080" xml:space="preserve">0</text><text x="1507.20" y="533.40" font-size="10.67" fill="#000080" xml:space="preserve">5</text><text x="1507.20 1514.20" y="493.40" font-size="10.67" fill="#000080" xml:space="preserve">10</text><text x="1507.20 1514.20" y="453.40" font-size="10.67" fill="#000080" xml:space="preserve">15</text><text x="1507.20 1514.20" y="412.40" font-size="10.67" fill="#000080" xml:space="preserve">20</text><text x="1507.20 1514.20" y="372.40" font-size="10.67" fill="#000080" xml:space="preserve">25</text><text x="1507.20 1514.20" y="332.40" font-size="10.67" fill="#000080" xml:space="preserve">30</text><text x="1507.20 1514.20" y="291.40" font-size="10.67" fill="#000080" xml:space="preserve">35</text><text x="1507.20 1514.20" y="251.40" font-size="10.67" fill="#000080" xml:space="preserve">40</text><text x="1507.20 1514.20" y="210.40" font-size="10.67" fill="#000080" xml:space="preserve">45</text><text x="1507.20 1514.20" y="170.40" font-size="10.67" fill="#000080" xml:space="preserve">50</text><text x="1507.20 1514.20" y="130.40" font-size="10.67" fill="#000080" xml:space="preserve">55</text><text x="1507.20 1514.20" y="89.40" font-size="10.67" fill="#000080" xml:space="preserve">60</text><text x="1507.20 1514.20" y="49.40" font-size="10.67" fill="#000080" xml:space="preserve">65</text><text transform="translate(63.50,625.80) rotate(-90)" x="-61.00 -57.00 -50.00 -43.00 -36.00 -32.00 -25.00 -18.00 -14.00 -7.00" y="0" font-size="10.67" fill="#000" xml:space="preserve">-Tue-00:00</text><text transform="translate(207.50,625.80) rotate(-90)" x="-61.00 -57.00 -50.00 -43.00 -36.00 -32.00 -25.00 -18.00 -14.00 -7.00" y="0" font-size="10.67" fill="#000" xml:space="preserve">-Tue-12:00</text><text transform="translate(351.50,625.80) rotate(-90)" x="-97.00 -90.00 -83.00 -79.00 -72.00 -65.00 -61.00 -50.00 -43.00 -36.00 -32.00 -25.00 -18.00 -14.00 -7.00" y="0" font-size="10.67" fill="#000" xml:space="preserve">02-25-Wed-00:00</text><text transform="translate(495.50,625.80) rotate(-90)" x="-97.00 -90.00 -83.00 -79.00 -72.00 -65.00 -61.00 -50.00 -43.00 -36.00 -32.00 -25.00 -18.00 -14.00 -7.00" y="0" font-size="10.67" fill="#000" xml:space="preserve">02-25-Wed-12:00</text><text transform="translate(639.50,625.80) rotate(-90)" x="-93.00 -86.00 -79.00 -75.00 -68.00 -61.00 -57.00 -50.00 -43.00 -36.00 -32.00 -25.00 -18.00 -14.00 -7.00" y="0" font-size="10.67" fill="#000" xml:space="preserve">02-26-Thu-00:00</text><text transform="translate(783.50,625.80) rotate(-90)" x="-93.00 -86.00 -79.00 -75.00 -68.00 -61.00 -57.00 -50.00 -43.00 -36.00 -32.00 -25.00 -18.00 -14.00 -7.00" y="0" font-size="10.67" fill="#000" xml:space="preserve">02-26-Thu-12:00</text><text transform="translate(927.50,625.80) rotate(-90)" x="-86.00 -79.00 -72.00 -68.00 -61.00 -54.00 -50.00 -44.00 -39.00 -36.00 -32.00 -25.00 -18.00 -14.00 -7.00" y="0" font-size="10.67" fill="#000" xml:space="preserve">02-27-Fri-00:00</text><text transform="translate(1071.50,625.80) rotate(-90)" x="-86.00 -79.00 -72.00 -68.00 -61.00 -54.00 -50.00 -44.00 -39.00 -36.00 -32.00 -25.00 -18.00 -14.00 -7.00" y="0" font-size="10.67" fill="#000" xml:space="preserve">02-27-Fri-12:00</text><text transform="translate(1215.50,625.80) rotate(-90)" x="-90.00 -83.00 -76.00 -72.00 -65.00 -58.00 -54.00 -47.00 -40.00 -36.00 -32.00 -25.00 -18.00 -14.00 -7.00" y="0" font-size="10.67" fill="#000" xml:space="preserve">02-28-Sat-00:00</text><text transform="translate(1359.50,625.80) rotate(-90)" x="-90.00 -83.00 -76.00 -72.00 -65.00 -58.00 -54.00 -47.00 -40.00 -36.00 -32.00 -25.00 -18.00 -14.00 -7.00" y="0" font-size="10.67" fill="#000" xml:space="preserve">02-28-Sat-12:00</text><text transform="translate(1503.50,625.80) rotate(-90)" x="-93.00 -86.00 -79.00 -75.00 -68.00 -61.00 -57.00 -50.00 -43.00 -36.00 -32.00 -25.00 -18.00 -14.00 -7.00" y="0" font-size="10.67" fill="#000" xml:space="preserve">03-01-Sun-00:00</text><text transform="translate(27.30,329.00) rotate(-90)" x="-31.00 -24.00 -16.00 -12.00 -4.00 3.00 6.00 10.00 17.00 24.00" y="0" font-size="10.67" fill="#333" xml:space="preserve">PV Voltage</text><text transform="translate(1545.30,329.80) rotate(-90)" x="-31.00 -24.00 -16.00 -12.00 -4.00 3.00 8.00 13.00 20.00 27.00" y="0" font-size="10.67" fill="#000" xml:space="preserve">PV Current</text><text x="729.00 736.00 743.00 750.00 757.00 761.00 768.00 775.00 779.00 786.00 793.00 797.00 801.00 810.00 819.00 826.00" y="740.00" font-size="10.67" fill="#333" xml:space="preserve">2026-02-28 (GMT)</text><text x="32.90 39.90 47.90 51.90 59.90 63.90 72.90 79.90" y="700.30" font-size="10.67" fill="#000" xml:space="preserve">PV V Max</text><text x="121.90 128.90 136.90 140.90 148.90 152.90 160.90 167.90" y="700.30" font-size="10.67" fill="#000" xml:space="preserve">PV V Ave</text><text x="209.90 216.90 224.90 228.90 236.90 240.90 249.90 252.90" y="700.30" font-size="10.67" fill="#000" xml:space="preserve">PV V Min</text><text x="32.90 39.90 47.90 51.90 54.90 58.90 67.90 74.90" y="717.30" font-size="10.67" fill="#000" xml:space="preserve">PV I Max</text><text x="121.90 128.90 136.90 140.90 143.90 147.90 155.90 162.90" y="717.30" font-size="10.67" fill="#000" xml:space="preserve">PV I Ave</text><text x="209.90 216.90 224.90 228.90 231.90 235.90 244.90 247.90" y="717.30" font-size="10.67" fill="#000" xml:space="preserve">PV I Min</text></svg></div></body></html>
